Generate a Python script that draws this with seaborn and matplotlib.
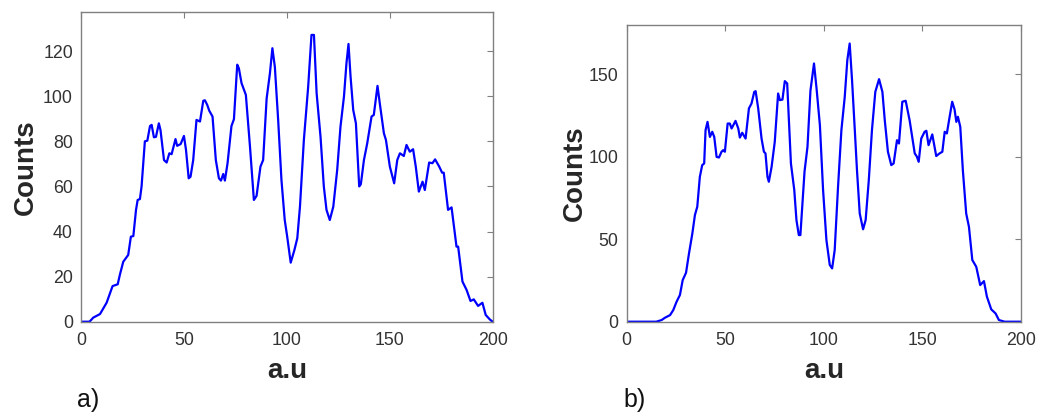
import matplotlib
matplotlib.use("Agg")
import matplotlib.pyplot as plt
import seaborn as sns

# Panel a) intensity profile
x_a = [0, 4, 5.8, 9.1, 12.3, 15.2, 17.7, 18.8, 20.4, 22.8,
       24.1, 25.3, 26.6, 27.4, 28.5, 29.3, 30.9, 32.1, 33.4, 34.2,
       35.3, 36.3, 37.7, 38.5, 40.2, 41.5, 42.8, 43.9, 45.8, 46.6,
       48.3, 49.9, 50.9, 52.2, 53.1, 54.4, 56.0, 57.7, 59.3, 60.1,
       61.2, 62.2, 63.8, 65.4, 66.9, 67.9, 69.0, 69.8, 71.1, 73.0,
       74.2, 75.8, 76.6, 77.9, 80.0, 82.0, 83.9, 85.2, 87.1, 88.4,
       90.1, 91.7, 92.9, 94.1, 95.7, 97.3, 98.9, 100.1, 101.8, 103.6,
       105.0, 106.3, 108.2, 110.3, 111.9, 113.1, 114.4, 116.3, 117.9, 119.2,
       120.8, 122.5, 124.4, 126.0, 127.7, 128.9, 129.9, 130.9, 132.2, 133.5,
       135.1, 135.9, 137.4, 139.0, 141.1, 142.2, 144.0, 145.1, 147.1, 148.1,
       150.0, 152.1, 153.6, 154.9, 156.8, 158.1, 159.7, 161.3, 162.6, 164.1,
       165.9, 167.0, 169.1, 170.7, 172.0, 174.0, 175.4, 176.2, 178.3, 180.0,
       182.4, 183.2, 185.3, 187.3, 189.2, 190.8, 192.9, 195.0, 196.6, 198.6,
       200.0]
counts_a = [0, 0, 1.8, 3.4, 8.4, 15.8, 16.6, 21, 26.6, 29.6,
            37.7, 38, 49.6, 54, 54.4, 60, 80, 80.3, 86.8, 87.3,
            81.8, 82, 88, 85, 71.7, 70.6, 74.7, 74.3, 81, 78,
            78.8, 82.4, 76.2, 63.6, 64.3, 71.7, 89.5, 88.8, 98, 98.2,
            96.2, 93.6, 91, 71.7, 63.6, 62.6, 65.5, 62.6, 70.3, 86.8,
            89.8, 114, 112.4, 105.8, 100.6, 77.7, 54, 55.8, 68.8, 71.7,
            99, 110.2, 121.3, 113, 89.5, 62.9, 45.1, 37.7, 26.2, 31.8,
            37, 51, 80.6, 104.3, 127.2, 127.2, 101.3, 82, 60, 49.6,
            45.1, 51, 67.3, 86.5, 99.9, 114.6, 123.2, 108.7, 93.9, 88,
            60, 61, 71.7, 79.1, 91, 91.7, 104.6, 96.9, 83.6, 80.6,
            68.8, 61.4, 71.7, 74.7, 73.5, 78.4, 75.4, 76.5, 68.8, 57.7,
            62.1, 58.4, 70.6, 70.3, 72, 68.8, 66.1, 66.1, 49.6, 50.7,
            33.3, 33.3, 17.8, 14.1, 9.2, 9.9, 7, 8.4, 3, 1,
            0]

# Panel b) intensity profile
x_b = [0, 15, 17.7, 19.4, 22.0, 23.6, 25.3, 27.0, 28.4, 30.1,
       31.6, 33.3, 34.6, 35.8, 37.1, 38.3, 39.3, 40.0, 41.0, 42.2,
       43.4, 44.4, 45.6, 46.8, 48.1, 49.0, 49.8, 51.2, 52.3, 53.2,
       55.2, 56.6, 57.4, 58.6, 60.3, 62.0, 63.3, 64.7, 65.4, 66.7,
       68.4, 69.6, 70.4, 71.4, 72.1, 73.5, 75.1, 76.8, 77.7, 79.0,
       80.2, 81.4, 83.3, 85.0, 86.1, 87.3, 88.1, 90.2, 91.7, 93.2,
       95.0, 96.3, 98.0, 99.6, 101.3, 103.0, 104.2, 105.5, 107.2, 108.9,
       110.6, 111.9, 113.1, 114.3, 115.7, 116.8, 118.2, 119.9, 121.2, 122.8,
       124.4, 126.1, 128.0, 129.7, 130.9, 132.5, 134.2, 135.4, 137.1, 138.1,
       139.8, 141.5, 143.5, 146.1, 147.2, 148.1, 149.4, 151.1, 152.0, 153.1,
       155.0, 157.0, 158.7, 160.1, 161.3, 162.4, 163.8, 165.1, 166.3, 167.2,
       168.0, 169.2, 170.5, 172.2, 173.6, 175.3, 177.3, 179.3, 181.2, 182.7,
       184.9, 187.1, 188.8, 191.7, 200.0]
counts_b = [0, 0, 1, 2.4, 4, 7, 12.1, 16.2, 25.2, 29.7,
            41.4, 53.5, 64.6, 69.7, 87.8, 94.9, 95.9, 116.1, 121.1, 112,
            115.1, 112, 99.9, 99.5, 103, 104, 103, 120.1, 120.1, 117.1,
            121.7, 117.1, 111.6, 114.5, 111, 129.3, 132.2, 139.3, 139.7, 129.3,
            111, 103, 102, 87.8, 84.8, 93.9, 109, 138.3, 134.3, 134.6,
            145.8, 144.4, 95.9, 79.8, 61.6, 52.5, 52.5, 91, 106, 140,
            156.5, 141.3, 119, 80, 49.5, 34.4, 32.3, 43.4, 81.8, 116.1,
            136.3, 158.5, 168.6, 146.4, 116.1, 91.9, 65.6, 56, 61.6, 85.8,
            116.1, 139.3, 147, 139.3, 122.1, 103, 94.9, 95.9, 110, 108,
            133.3, 133.9, 122.1, 102, 100, 96.9, 111, 115.1, 115.7, 107,
            113.5, 100.4, 102, 103, 115.1, 114.1, 124.2, 133.3, 128.6, 121.1,
            124.2, 118.1, 91.9, 65.6, 57.5, 37.4, 33.3, 22.2, 24.6, 15.2,
            7.5, 5, 1, 0, 0]

x_ticks = [0, 50, 100, 150, 200]
y_ticks_a = [0, 20, 40, 60, 80, 100, 120]
y_ticks_b = [0, 50, 100, 150]
panel_labels = ["a)", "b)"]

sns.set_style("white")
plt.rcParams["font.family"] = ["Liberation Sans", "DejaVu Sans"]

W, H = 1038, 415
fig = plt.figure(figsize=(W / 100, H / 100), dpi=100)
ax_a = fig.add_axes([81.3 / W, (H - 321.7) / H, 411.4 / W, 310 / H])
ax_b = fig.add_axes([626.7 / W, (H - 321.7) / H, 394.3 / W, 297 / H])

line_kw = dict(color="#0000ff", linewidth=1.6, sort=False, estimator=None)
sns.lineplot(x=x_a, y=counts_a, ax=ax_a, **line_kw)
sns.lineplot(x=x_b, y=counts_b, ax=ax_b, **line_kw)

setup = [
    (ax_a, (0, 137.5), y_ticks_a, -0.1826, -0.135),
    (ax_b, (0, 180), y_ticks_b, -0.1906, -0.1324),
]
for ax, ylim, yt, xlab_y, ylab_x in setup:
    ax.set_xlim(0, 200)
    ax.set_ylim(*ylim)
    ax.set_xticks(x_ticks)
    ax.set_yticks(yt)
    for sp in ax.spines.values():
        sp.set_visible(True)
        sp.set_color("#808080")
        sp.set_linewidth(1.0)
    ax.tick_params(axis="both", direction="in", top=True, right=True,
                   length=4, width=0.8, color="#808080",
                   labelsize=12.8, labelcolor="#333333")
    ax.tick_params(axis="x", pad=7.5)
    ax.tick_params(axis="y", pad=6)
    ax.set_xlabel("a.u", fontsize=20, fontweight="bold", va="baseline")
    ax.xaxis.set_label_coords(0.5, xlab_y)
    ax.set_ylabel("Counts", fontsize=20, fontweight="bold", va="center")
    ax.yaxis.set_label_coords(ylab_x, 0.5)

fig.text(76.7 / W, 1 - 406.7 / H, panel_labels[0], fontsize=18,
         ha="left", va="baseline", color="#111111")
fig.text(623.3 / W, 1 - 406.7 / H, panel_labels[1], fontsize=18,
         ha="left", va="baseline", color="#111111")

fig.savefig("out.png", dpi=100, facecolor="white")
